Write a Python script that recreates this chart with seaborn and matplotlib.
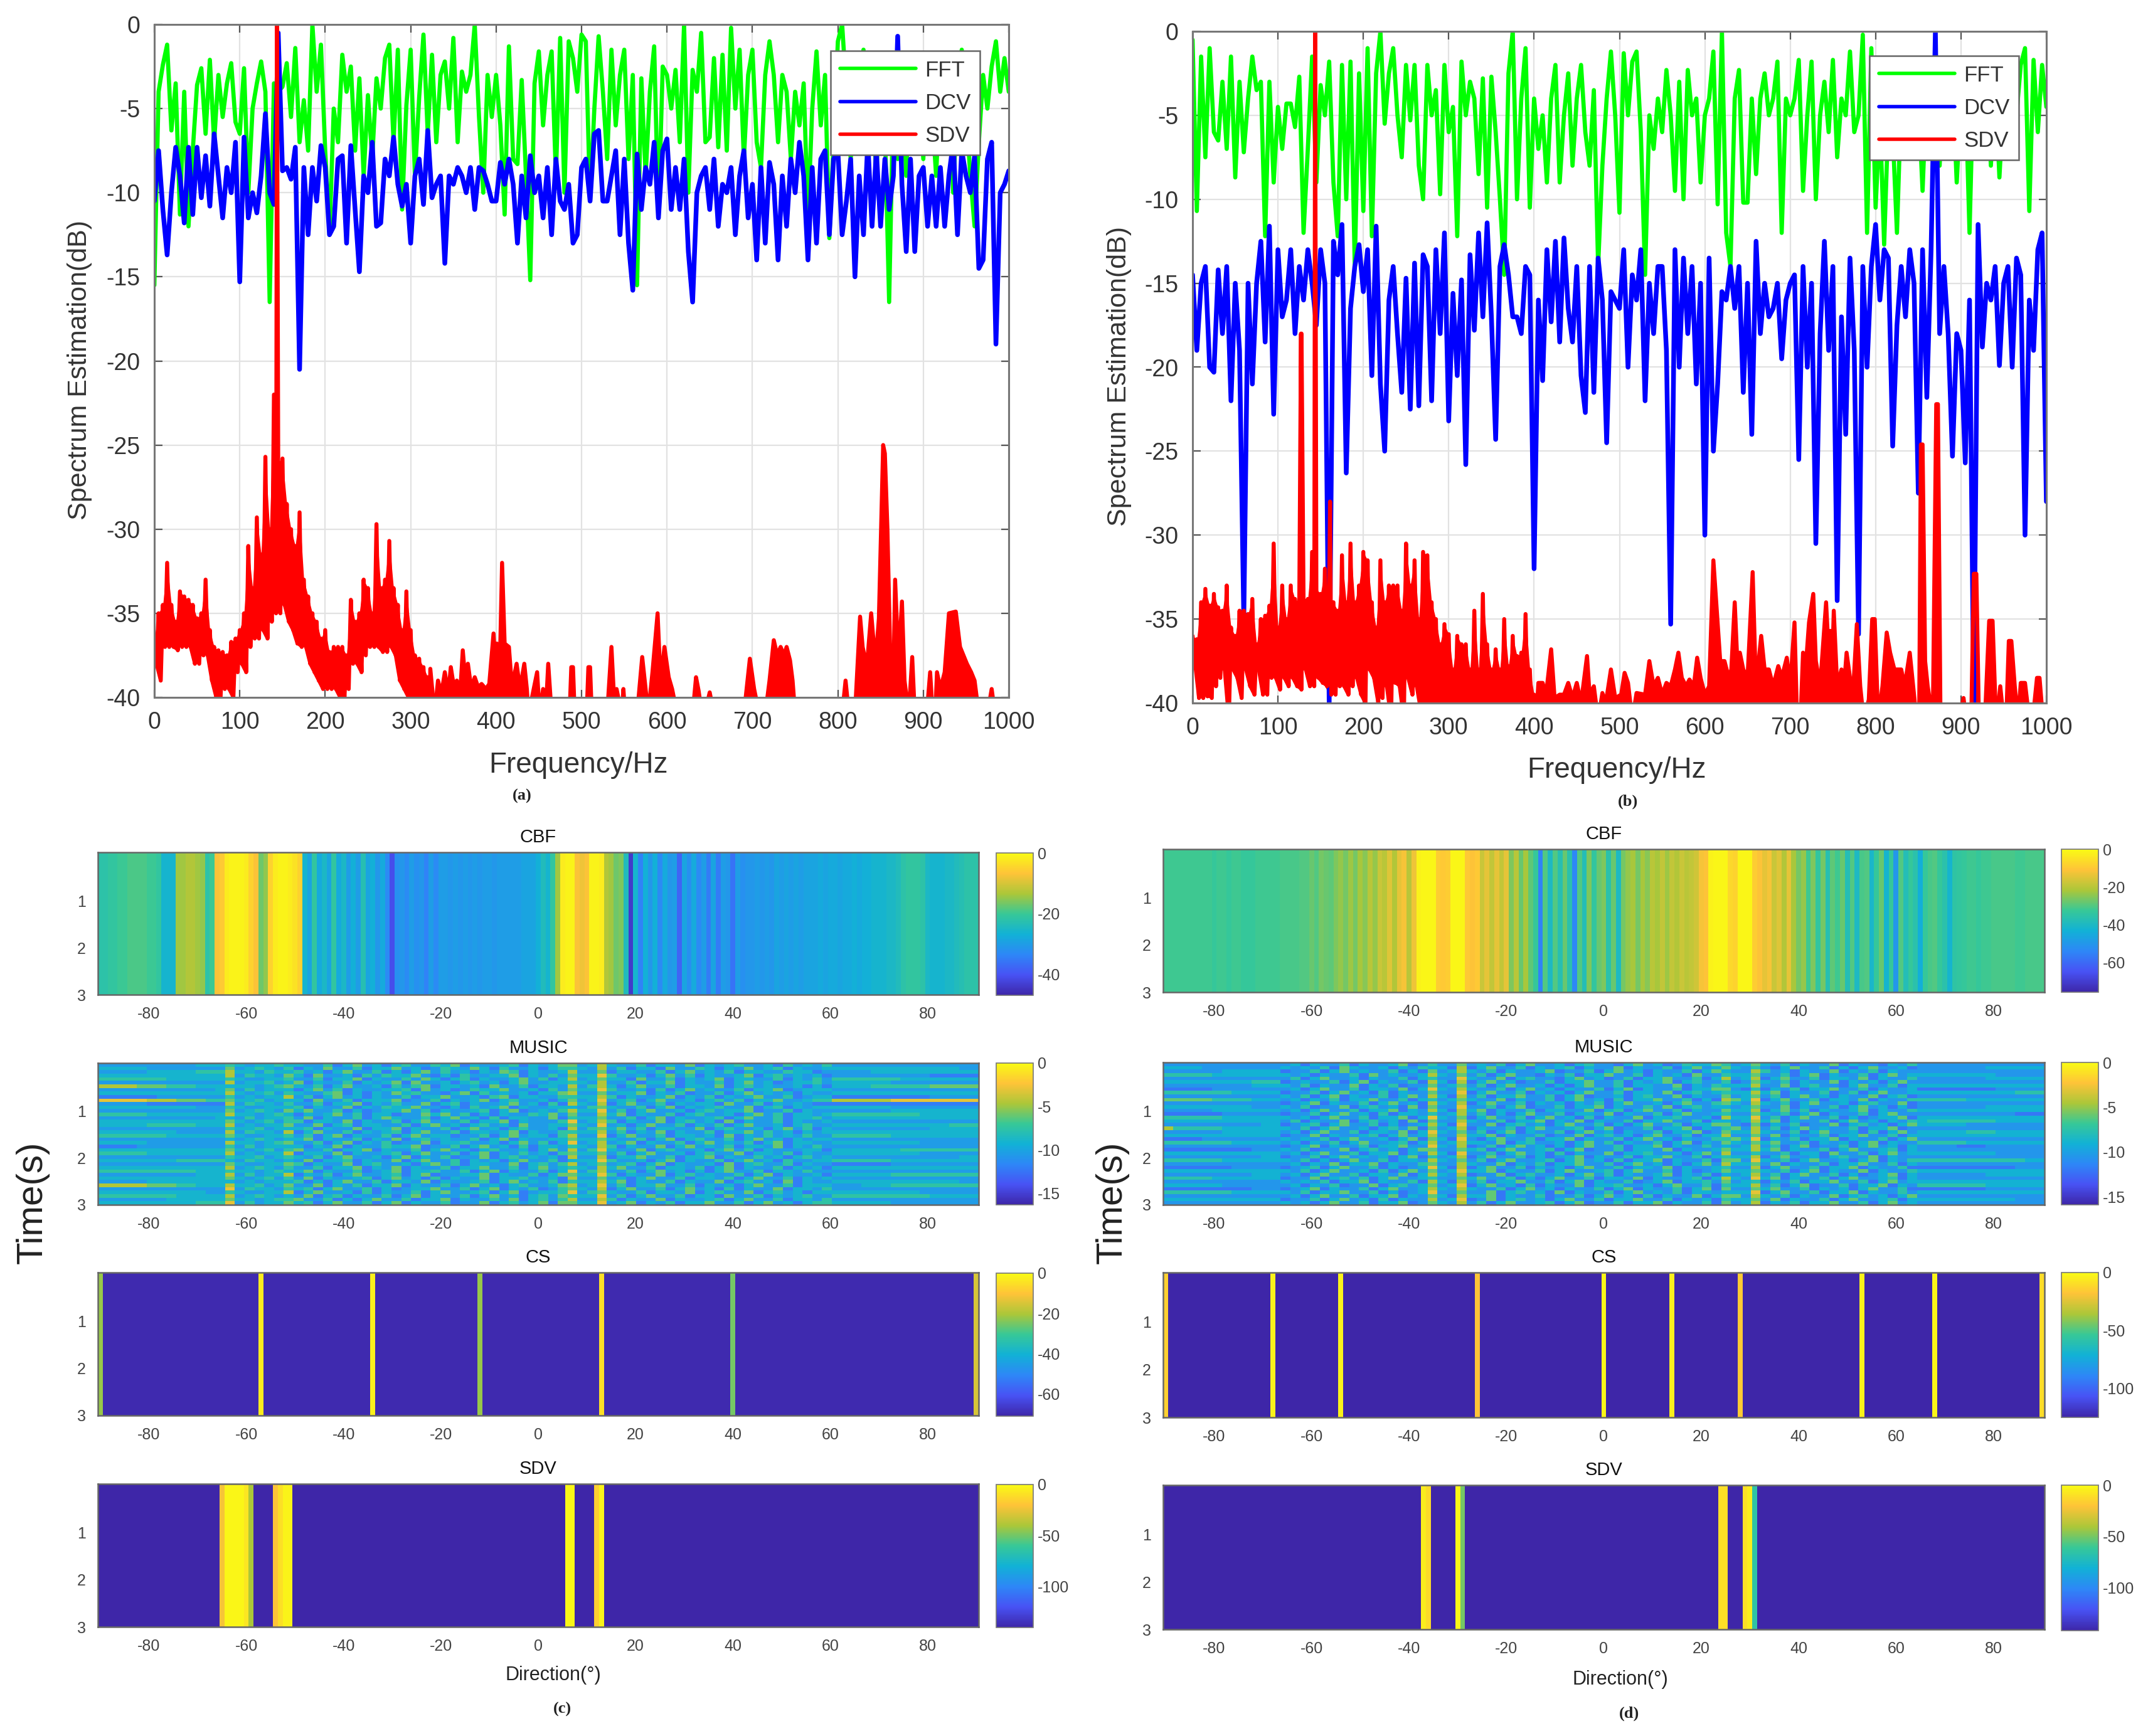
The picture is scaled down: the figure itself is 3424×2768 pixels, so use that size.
import numpy as np
import matplotlib
matplotlib.use("Agg")
import matplotlib.pyplot as plt
from matplotlib.colors import LinearSegmentedColormap
import seaborn as sns

W, H = 3424, 2768
sns.set_theme(style="white")
plt.rcParams['font.family'] = ['Liberation Sans', 'DejaVu Sans']
plt.rcParams['axes.unicode_minus'] = False

# ---------------- spectra: 5 Hz steps, one line per 50 Hz ----------------
a_fft = [
 -15.5,-4,-2.4,-1.2,-6.3,-3.5,-11.3,-4,-12,-7.5,
 -3.6,-2.6,-6.5,-2.1,-7,-3,-5.5,-3.5,-2.3,-5.8,
 -6.5,-2.6,-10,-5,-3.5,-2.2,-4,-16.5,-3.5,-4,
 -3.7,-2.3,-5.5,-1.4,-7,-4.5,-7.5,0,-4,-1.2,
 -7.5,-12.5,-5,-7,-1.8,-4,-2.5,-7.5,-3.2,-9,
 -4.2,-8,-3.2,-5,-2,-1.2,-7,-1.5,-11,-4.8,
 -1.5,-9,-4.3,-0.6,-6.5,-1.8,-7,-3,-2.2,-5,
 -0.8,-7,-2.8,-4,-3,0,-5.5,-10,-3,-5.5,
 -3,-6,-11.3,-1.3,-8,-8.3,-3.3,-9,-15.2,-3.5,
 -1.6,-6,-3,-1.6,-9,-0.8,-10,-1,-2,-4,
 -0.6,-1,-10.5,-5,-0.7,-4,-8,-1.5,-6,-3,
 -1.5,-8,-3,-15.5,-3.2,-9,-4,-1.3,-11.5,-2.5,
 -3,-5,-2.7,-7,0,-10,-2.7,-4,-0.5,-7,
 -6.7,-2,-7.3,-1.8,-7.5,-0.2,-5,-1.5,-8,-3,
 -1.5,-7,-8.5,-3,-1,-3,-7,-3,-4,-8,
 -4,-6,-3.5,-11.5,-5,-1.6,-6,-3,-12.7,-7,
 -1,0,-4,-8,-5,-3,-1.5,-6,-4,-9,
 -3,-6,-16.5,-4,-8,-3,-9,-2,-6,-4,
 -8,-2,-5,-9,-3,-7,-2.5,-10,-4,-1.5,
 -5,-9,-12,-7,-3,-5,-2.5,-1,-4,-2,
 -4]
a_dcv = [
 -10.5,-7.5,-11,-13.7,-10,-7.3,-9,-11.8,-7.3,-11.3,
 -7.3,-10.3,-7.8,-10.8,-6.5,-9,-11.5,-8.5,-10,-7,
 -15.3,-6.7,-11.5,-10,-11.2,-9,-5.3,-10,-10.7,-0.5,
 -8.7,-8.5,-9.2,-7.3,-20.5,-8.5,-12.5,-8.5,-10.5,-7.2,
 -8.5,-12.5,-12,-8,-7.8,-13,-7.2,-11,-14.7,-9,
 -10,-7,-12,-11.8,-8,-9,-6.7,-9.5,-10.8,-9.5,
 -13,-9,-8,-10.7,-6.3,-10.3,-9.5,-9,-14.2,-9,
 -9.5,-8.5,-9,-10,-8.5,-11,-8.5,-8.7,-9.5,-10.5,
 -10.5,-8.2,-9.5,-8,-9.5,-13,-9,-11.5,-7.8,-10,
 -9,-11.5,-8.5,-12.5,-8,-10.5,-11,-9.5,-13,-12.5,
 -8.5,-8,-10.5,-6.5,-6.3,-10.5,-10.5,-9,-7.5,-12.5,
 -8,-13,-15.8,-7.7,-11,-8.5,-9.5,-7,-11.5,-7.5,
 -6.8,-11,-8.5,-11,-8,-13.5,-16.5,-10,-9,-8.5,
 -11,-8,-12,-9.5,-10,-8.5,-12.5,-9,-7.5,-11.5,
 -9.5,-14,-8.5,-13,-8.2,-9.5,-14,-9,-12,-8,
 -10,-7,-9,-14,-8.5,-13,-8,-7.5,-12.5,-8,
 -7.5,-12.5,-10.5,-8,-15,-9,-12.5,-7,-12,-7.5,
 -12,-8,-11,-9,-0.7,-9.5,-13.5,-8,-13.5,-9,
 -8.5,-12,-9,-12,-8.5,-12,-9,-7,-12.5,-7.5,
 -9,-10,-7.8,-14.5,-14,-8,-7,-19,-10,-9.5,
 -8.7]
b_fft = [
 -0.5,-10.7,-1.5,-7.5,-1,-6,-6.5,-3,-7,-1.5,
 -8.7,-3,-7.2,-4,-1.5,-3.5,-3,-12.2,-3,-9,
 -4.5,-7,-4.3,-4.3,-5.7,-2.7,-12,-7,-1.5,-9,
 -3.2,-5,-1.8,-9,-12.2,-2,-10,-1.8,-14,-2.5,
 -10.7,-1,-12.2,-2.5,0,-5.5,-2.5,-1,-5,-7.5,
 -2,-5.3,-2,-8,-10,-2,-5,-3.5,-9.7,-2,
 -6,-4.5,-12.2,-1.8,-5,-3,-4,-8.5,-2.8,-10.5,
 -2.7,-6,-10,-14.5,-2.5,0,-10,-4,-1,-10.5,
 -4,-7,-5,-9,-4,-2,-9,-5,-2.5,-8,
 -4,-2,-6,-8,-3.5,-14,-8,-4,-1.2,-5,
 -10.8,-1.3,-5,-1.8,-1.2,-6,-14.5,-5,-7,-4,
 -6,-2.3,-5,-9.5,-3,-10,-2.3,-5,-4,-9,
 -5,-4,-1.2,-10.3,0,-12,-14,-4,-2.3,-10.2,
 -10.2,-4,-8.5,-4,-2.5,-5,-4,-1.8,-12,-4,
 -5,-4,-1.7,-9.5,-5,-1.8,-10,-5,-3,-6,
 -1.7,-7.5,-4,-5,-1.2,-6,-5,-0.2,-12,-1,
 -10.5,-5,-12.7,-5,-6,-12,-4,-7,-3,-5,
 -4,-9.5,-3,-6,-3,-8,-2,-5,-3,-9,
 -4,-3,-12,-2,-6,-3,-2,-8,-3,-8.7,
 -4,-3,-2,-5,-2,-1,-10.7,-1.7,-6,-2,
 -4.5]
b_dcv = [
 -14.5,-19,-15,-14,-20,-20.3,-14.2,-18,-14,-22,
 -15,-19,-35,-15,-21,-15,-12.5,-18.5,-11.6,-22.8,
 -13,-17,-16,-13,-18,-14,-16,-13,-15,-17.5,
 -13,-15,-40,-12.5,-14.5,-11.5,-26.3,-16.5,-14,-12.7,
 -15.5,-13,-20.5,-11.6,-21,-25,-16,-14,-18,-21.5,
 -14.7,-22.5,-13.8,-22.3,-13.3,-14,-22,-13,-18,-12,
 -23.2,-15.6,-20.5,-14.8,-25.8,-13.3,-17.8,-12,-17,-11.4,
 -17,-24.3,-14,-12.7,-14.5,-17,-17,-18,-14,-14.5,
 -32,-16,-20.8,-13,-17.3,-12.5,-18.5,-12.3,-16.5,-18.5,
 -14,-20.5,-22.7,-14,-21.5,-13.5,-16,-24.5,-15.5,-16,
 -16.5,-13,-20,-14.5,-16,-13,-22,-15,-18,-14,
 -14,-19,-35.3,-13,-20,-13.5,-18,-14,-21,-15,
 -30,-13.5,-25,-21,-15.5,-16,-14,-16.5,-14,-21.5,
 -15,-24,-12.5,-18,-15,-17,-16.5,-15,-19.5,-16,
 -15,-14.5,-25.5,-14,-20,-15,-30.5,-18,-12.5,-19,
 -14,-33.9,-17,-24,-13.5,-19,-35.9,-14,-20,-14,
 -11.5,-16,-13,-13.5,-24.7,-17.5,-14,-17,-13,-15,
 -27.5,-13,-21.8,-13,0,-18,-14,-18,-25.3,-18,
 -19,-25.7,-16,-40,-11.5,-18.8,-15,-16,-14,-19.9,
 -15,-14,-20,-13.5,-14.5,-30,-16,-19,-13,-12,
 -28]

# SDV: dense band read as peak and trough per 5 Hz, then isolated points
a_sdv_hi = [
 -36.5,-35,-34.5,-32,-34.5,-35.5,-33.7,-34,-34.2,-34.5,
 -35.3,-35,-33,-36,-37,-37.2,-37.3,-37.5,-36.7,-36.5,
 -36,-35,-31,-33.5,-29.3,-31.5,-25.7,-30,-22,-26,
 -25.8,-28.5,-30,-31,-29,-33,-34,-35,-35.5,-36.5,
 -36,-37.3,-37,-37,-37,-37.5,-34.2,-35.5,-35,-33,
 -33.5,-35,-29.7,-33.5,-33,-30.7,-33.5,-34.5,-36,-33.7,
 -36,-37.5,-37.7,-38.2,-38.8]
a_sdv_lo = [
 -38,-39,-37,-37,-37,-37.2,-37,-37,-37,-38,
 -38,-37.5,-37.5,-39,-40,-40,-39.5,-39.5,-40,-38.5,
 -38,-38.5,-37,-36.5,-36.5,-36,-36.5,-35.5,-35,-35,
 -34.5,-35.5,-36,-36.8,-37,-37,-38,-38.5,-39,-39.5,
 -39.5,-39.5,-39.5,-40,-40,-39.5,-38,-38,-38.5,-37.5,
 -37,-37,-37,-37.3,-37.3,-37,-37.5,-39,-39.5,-40,
 -40.5,-41,-41,-41,-41]
a_sdv_points = [(143.5,0),
 (323,-38.3),(328,-41),(332,-39),(336,-39.8),(340,-38.5),(344,-39.8),(347,-38.2),(351,-39.5),(354,-39),(358,-39.7),
 (361,-37.2),(364,-39),(367,-38),(371,-39.5),(375,-38.8),(379,-39.4),(383,-39.2),(388,-39.5),(392,-39.2),(397,-36.2),
 (399,-38),(401,-36.8),(404,-39),(407,-32),(410,-36.8),(415,-37),(418,-39),(420,-39),(424,-38),(428,-39.5),(433,-38),
 (436,-39.5),(438,-41),(448,-38.5),(451,-41),(455,-39.5),(458,-41),(461,-38),(465,-41),
 (486,-41),(488,-38.2),(490,-38.2),(492,-41),(506,-41),(508,-38.2),(510,-38.2),(512,-41),
 (530,-41),(535,-37),(539,-41),(541,-39.5),(547,-41),(549,-39.5),(551,-41),
 (565,-41),(571,-37.6),(575,-39.5),(578,-41),(583,-38.5),(589,-35),(592,-38.5),(595,-38),(597,-37),(602,-38.8),(606,-39.5),(612,-41),
 (630,-41),(634,-38.8),(637,-39.6),(641,-41),(644,-41),(650,-39.7),(655,-41),
 (690,-41),(697,-37.7),(702,-39.5),(708,-41),(715,-41),(720,-39),(725,-36.6),(729,-37.5),(733,-37),(737,-37.5),(740,-37),
 (744,-37.8),(747,-39),(750,-41),
 (805,-41),(809,-39),(813,-41),(820,-41),(826,-35.2),(829,-37),(831,-37.5),(835,-37.5),(839,-35),(844,-38),(848,-35.3),
 (853,-25),(855,-25.5),(858,-30),(862,-39),(865,-39),(867,-33),(871,-38),(875,-34.3),(878,-39),(883,-41),(887,-37.6),(890,-41),
 (904,-41),(908,-38.5),(911,-41),(914,-41),(916,-38.5),(920,-39.5),(925,-38.5),(930,-35),(938,-34.9),(943,-37),(947,-37.5),
 (951,-38),(956,-38.5),(960,-39),(965,-41),(975,-41),(980,-39.5),(984,-41),(1000,-41)]

b_sdv_hi = [
 -36,-36.2,-34,-33.2,-34.2,-33.5,-34.3,-34.5,-33,-35.5,
 -36,-34.5,-34.5,-34.7,-33.8,-36.5,-35,-34.8,-34.2,-30.5,
 -35.5,-33,-35,-33,-33.8,-34,-34,-33.8,-31,-33.2,
 -33.5,-32,-33.5,-34,-34.5,-31.2,-34,-30.5,-34,-33,
 -31,-31.5,-34,-35.5,-31.5,-34,-33,-33,-33,-34.5,
 -30.5,-33,-31.5,-35,-31,-31.2,-34,-35,-36.5,-35.3,
 -35.9,-38,-36,-36.5,-36.5,-38,-34.5,-38,-33.5,-36.5,
 -38,-36.8,-38,-35,-37.8,-36,-37.2,-37,-34.7,-38,
 -39.5]
b_sdv_lo = [
 -37.5,-39.7,-39.7,-39.6,-39.7,-39,-38.5,-38,-41,-38,
 -38.5,-39.7,-38,-39,-39.5,-38,-39.5,-39.5,-38.5,-38.5,
 -39.2,-38.5,-39,-38.5,-39,-39.2,-38,-39,-39,-38.5,
 -38.8,-39,-39.5,-39.5,-39,-39,-39.5,-39,-38.5,-39.5,
 -40,-38,-38.5,-40,-39.7,-39,-41,-38.8,-39,-41,
 -38.5,-39.5,-39,-40.5,-40.5,-40.5,-40.5,-40.5,-41,-41,
 -41,-41,-41,-41,-41,-41,-41,-41,-41,-41,
 -41,-41,-41,-41,-41,-41,-41,-41,-41,-41,
 -41]
b_sdv_points = [(127,-18),(127.6,-18),(143.5,0),(161,-28),
 (405,-38.8),(410,-38.8),(414,-39.5),(420,-36.8),(424,-39.7),(430,-39.5),(435,-39.5),(440,-38.8),(445,-39.7),(450,-38.8),
 (455,-40),(462,-37.2),(465,-39.5),(470,-39),(475,-41),(480,-39.4),(484,-40),(490,-38),(495,-39.7),(502,-39.5),(506,-38.2),
 (510,-38.8),(515,-41),(520,-39.4),(530,-39.5),(535,-37.5),(540,-39),(545,-38.5),(550,-39.5),(555,-38.8),(560,-39),
 (565,-38),(569,-37),(573,-38.5),(578,-39),(582,-38.6),(587,-39),(591,-37.3),(595,-38.5),(600,-39.5),(605,-39),
 (610,-31.5),(612,-33),(615,-35.3),(618,-37.5),(623,-37.5),(628,-38.5),(631,-38),(635,-34),(638,-37.5),(641,-37),
 (645,-38),(650,-38.5),(656,-32.2),(659,-37.5),(662,-38),(666,-36),(670,-38),(675,-38),(680,-39),(686,-37.8),(690,-38.5),
 (696,-37.3),(700,-39),(705,-35.2),(708,-41),(712,-41),(715,-37),(718,-38),(722,-35.2),(727,-33.5),(730,-37.5),(735,-39),
 (742,-34),(745,-37),(747,-35.7),(749,-38),(751,-34.5),(755,-39),(760,-38),(763,-39),(766,-37),(770,-38.5),(774,-39),
 (778,-35.3),(782,-39),(786,-41),(792,-39.8),(796,-35),(799,-35),(803,-41),(808,-39),(813,-35.8),(817,-37),(822,-38),
 (826,-38),(830,-38),(834,-39),(840,-37),(844,-39),(848,-41),(851,-41),(853,-24.6),(855,-24.6),(858,-37.5),(861,-39),
 (867,-41),(871,-22.2),(873,-22.2),(876,-41),(898,-41),(903,-39.7),(906,-41),(912,-41),(915,-32.3),(918,-32.3),(921,-41),
 (928,-41),(933,-35.1),(937,-35.1),(941,-41),(942,-41),(946,-39),(950,-41),(953,-41),(956,-36.3),(959,-36.3),(963,-39),
 (967,-41),(970,-38.8),(975,-38.8),(980,-41),(984,-41),(989,-38.5),(992,-38.5),(996,-41),(1000,-41)]

legend_names = ["FFT", "DCV", "SDV"]
freq_ticks = list(range(0, 1001, 100))
db_ticks = list(range(-40, 1, 5))

# ---------------- heat maps, dB per 1 degree from -90 to 90 ----------------
cbf_c = [
 -22,-22,-21,-21,-20,-20,-19,-19,-19,-19,
 -20,-20,-21,-26,-26,-26,-14,-14,-13,-13,
 -14,-15,-22,-20,-7,-6,-2,-1,-1,-1,
 -2,-5,-7,-17,-15,-5,-2,-1,-1,-2,
 -3,-5,-26,-29,-21,-28,-25,-29,-21,-28,
 -25,-30,-27,-30,-23,-29,-27,-31,-28,-33,
 -41,-32,-31,-33,-30,-32,-31,-34,-30,-33,
 -30,-30,-31,-30,-31,-30,-31,-30,-31,-30,
 -30,-31,-30,-30,-30,-30,-30,-29,-29,-29,
 -27,-24,-26,-21,-14,-2,-1,-1,-7,-8,
 -7,-1,-1,-2,-13,-14,-17,-16,-24,-44,
 -26,-34,-27,-31,-27,-33,-28,-31,-30,-38,
 -29,-32,-28,-33,-30,-35,-29,-35,-30,-31,
 -36,-30,-32,-31,-31,-30,-31,-30,-31,-29,
 -30,-29,-30,-29,-30,-29,-29,-29,-28,-29,
 -28,-28,-29,-28,-28,-27,-28,-27,-27,-26,
 -26,-26,-25,-25,-24,-22,-21,-21,-21,-22,
 -25,-26,-26,-26,-25,-25,-24,-23,-22,-22,
 -22]
cbf_d = [
 -32,-32,-32,-32,-32,-32,-32,-32,-32,-32,
 -33,-32,-32,-33,-32,-32,-33,-33,-33,-32,
 -32,-32,-32,-32,-31,-31,-31,-31,-30,-30,
 -28,-30,-27,-28,-29,-26,-24,-27,-23,-27,
 -22,-25,-20,-24,-18,-20,-15,-21,-14,-12,
 -20,-13,-2,-1,-1,-1,-9,-10,-9,-1,
 -1,-1,-10,-11,-10,-18,-14,-19,-14,-19,
 -14,-26,-20,-28,-22,-29,-33,-55,-30,-40,
 -30,-37,-28,-36,-54,-30,-38,-26,-34,-28,
 -26,-36,-28,-40,-27,-24,-22,-27,-22,-25,
 -20,-22,-19,-23,-19,-21,-18,-20,-19,-17,
 -12,-11,-2,-1,-1,-1,-7,-8,-1,-1,
 -1,-9,-11,-14,-12,-18,-15,-21,-14,-22,
 -27,-24,-32,-26,-34,-27,-37,-29,-32,-28,
 -38,-30,-40,-31,-30,-41,-33,-28,-42,-33,
 -50,-30,-38,-33,-36,-44,-33,-31,-30,-33,
 -36,-42,-35,-34,-33,-32,-32,-33,-32,-32,
 -31,-31,-31,-31,-31,-32,-32,-31,-31,-31,
 -31]
cs_c_deg = [-90, -57, -34, -12, 13, 40, 90]
cs_c_db = [-22, -3, -2, -22, -5, -25, -15]
cs_c_floor = -70
cs_d_deg = [-90, -68, -54, -26, 0, 14, 28, 53, 68, 90]
cs_d_db = [-14, -3, -3, -18, -2, -4, -16, -3, -2, -10]
cs_d_floor = -125
sdv_c_deg = [-65,-64,-63,-62,-61,-60,-59,-54,-53,-52,-51,6,7,12,13]
sdv_c_db = [-22,-2,-2,-2,-2,-8,-40,-20,-10,-3,-3,-2,-2,-16,-3]
sdv_c_floor = -140
sdv_d_deg = [-37,-36,-30,-29,24,25,29,30,31]
sdv_d_db = [-5,-12,-2,-50,-10,-10,-10,-5,-65]
sdv_d_floor = -142

# MUSIC: rows of digits, one digit per 2 degrees, value = -1.5 * digit dB
music_c = [
 "7777777777666 5 67665 6 6775864768657756486776586764 4 76 3 67758667486765776857675 777777777777777",
 "6666677777777 4 76567 5 8674775866476875674685776865 5 67 3 75866847756867476586776 666666666666677",
 "7777766666555 3 66756 6 5768647758686475768674586776 3 77 4 86677586476758667756687 777766666666666",
 "6666666666666 3 75667 4 6847768575664786857766486757 4 66 2 57768647586776486576768 777777777788888",
 "5555555666666 5 67766 5 7758664867757468658677647586 3 76 4 66847758676486677586757 555555566666666",
 "7777777777777 3 76657 6 4867758676484776865768647766 5 67 3 77586648677586476876657 666666777777777",
 "3333444555666 6 66765 4 6758647768575486676847758667 3 75 3 68647758667486576776868 666655555544444",
 "7777777777776 4 75766 6 8647586776658476875664776857 4 66 2 57768586476775866487666 777777777777777",
 "6666666666666 3 67657 5 6775486867465778648576768664 3 77 4 76648675877586476768677 666666666666666",
 "8888887777777 5 76766 3 7586476867758664776854866775 5 66 3 58677648675867647758766 888888888877777",
 "2222233344455 4 66576 6 6847758666487758676486577686 4 76 2 76586477686575866477655 333333222222222",
 "7777788888888 3 75667 5 7758664867577486586776476858 3 67 3 86477586766847758676788 888888888888888",
 "6666666666777 5 67766 6 5867748675664778685764867766 6 75 4 67758648676577486586766 666666777777777",
 "7777777777777 4 76567 4 6477586876647586776586487675 3 66 2 75864776865766487758677 777777666666666",
 "5555566666666 3 66765 6 8676475866877464758686775647 4 77 3 64867758657768647586676 555555555666666",
 "7777777777776 6 75766 5 7486775864677586476858667748 5 66 4 77586486776586477586657 666666666666666",
 "6666666666666 4 67657 5 5866748677586476758664867775 2 76 3 58677486576848677586776 777777777777777",
 "6666655555666 3 76766 4 7748658667758647686576847766 4 67 2 76864775867586477686577 666666666666555",
 "7777777777777 5 66576 6 6586774866486775864768657768 3 75 4 64758667748657768647586 777777777766666",
 "6666666677777 3 75667 3 8647758676586477586676486775 5 66 3 75867486775866475768676 666666666666666",
 "5555555666666 4 67766 5 7586486775864766877586476685 3 77 2 86477586676848675767577 555555666666666",
 "7777777777777 6 76567 6 6486775867486576775864867766 4 66 4 67758648657758647686766 777777777777777",
 "6666677777777 3 66765 4 7758648675877486657768647586 2 76 3 76486775864767586486677 666666666777777",
 "8888777777777 5 75766 6 6867486775664877586476858667 5 67 3 58677486476758667486757 777777777777777",
 "6666666666666 4 67657 5 4775866486775864768657768647 3 75 2 67748657768647586777668 666666655555555",
 "5555566666666 3 76766 3 8667486776586477586486757685 4 66 4 75864776865774866758677 666666666777777",
 "7777777777777 5 66576 5 6758647768648675877486576768 3 77 3 86647758664867757686576 777777777777766",
 "6666666655555 6 75667 6 7486658677486477586768647758 6 66 2 57768648677586476857766 555555666666666",
 "7777777777777 4 67766 4 5867748657768647586677486575 3 76 4 76586486776848657758677 888888777777777",
 "6666666666666 3 76567 5 7758664867486775866477586476 5 67 3 64775866758648677586768 666666666666666",
 "5555555555666 5 66765 6 6486775876486657758648677586 2 75 3 77586476868647758667577 777777777777777",
 "7777777777666 3 75766 3 8675864776586487766486775864 4 66 2 58677486576775864867768 666666555555555",
 "6666666666666 4 67657 5 7486776586476858677486657768 3 77 4 76864775866758647758676 777777777777777",
 "7777766666666 6 76766 6 5868647758667486776586476758 5 66 3 64867758677486576848677 666666666666677",
 "3333344455666 3 66576 4 7748675866486775864768657764 3 76 2 75866477586768647758666 777666555555555",
 "7777777777777 2 75667 5 6586477586876647758648675875 4 67 3 86477586476858677486675 777777777777777",
 "6666666666677 5 67766 3 8647768586775864776586487665 2 75 4 67758667486577486576866 666666666777777",
 "5555555566666 3 76567 6 7486586775864867758647686574 5 66 2 75864775866847758676577 555555555566666",
 "7777777666666 4 66765 5 4775868647758664867757486575 3 77 3 58677486776586477586675 777777777777777",
 "6666666666555 2 75766 4 6586477586486775877486576484 4 66 2 76486758664775864768655 666666777777777",
]
music_d = [
 "777777777777 768677586776487 5 77 4 76758647768657786476875664 5 76 4 6758677486778675 7777777777777",
 "666677777777 676758467768675 6 68 3 86477586765867748677586476 4 67 5 7864775868647768 7777777666666",
 "777777666666 877586476775868 4 76 3 67586776487758647686775864 6 77 3 5768677486758677 7777777777777",
 "555556666666 676867758476776 3 67 4 75864778675866477586768477 5 66 4 7758648677586476 6666666677777",
 "777777777777 758647768677586 5 77 2 67748657786476875866477586 3 76 3 8647758667486775 7777777666666",
 "666666666555 876775864867758 3 68 3 86476877586647758676486577 5 87 4 6758677486768647 7777777777777",
 "777777777666 675867748675877 4 76 4 75864776868647758667748675 6 66 3 7748657786477586 6666666666666",
 "888887777777 768647758667486 2 67 3 67758647686775864867758664 4 78 5 8675866477586776 8888888877777",
 "555555566666 877586476858677 4 77 2 86477586768647758667486576 5 66 3 6486775875864776 6666666666555",
 "777777777777 675864867758647 3 68 3 75866477586487768657748677 4 76 4 7586476867748658 7777777777777",
 "444445555666 768675866477586 5 76 4 67748677586476858664775868 3 46 2 8647758667486775 5555566666666",
 "777777777777 876486775864768 3 67 3 86477586768675864776864775 4 67 3 6758647768657748 7777777777777",
 "666666666777 675877486576848 4 77 2 77586487758664867757486576 6 76 4 7748677586476868 7777777666666",
 "777776666666 768647758664867 3 68 3 64867758667748658647758677 4 66 3 8647586776486775 6666666666666",
 "888888777777 877586476858667 5 76 3 75868647758667486775864776 5 77 4 6758648677586477 7777777777888",
 "555555666666 676864775866486 2 67 4 86477586476858677486657768 3 66 2 7586477586876648 6666666666666",
 "666666666666 758677486576848 4 77 3 67758664867486775866477586 6 76 3 6486775864768675 6555555566666",
 "777777777766 876586477586876 3 68 2 77486576864775868647758664 4 78 4 8675877486576864 6666677777777",
 "355555666666 675864776865748 4 76 3 86775864776586487758664867 5 47 3 7586476775866487 7777777777777",
 "777777666666 768647758667486 2 67 4 75864867758647686775866487 4 66 3 6775864776858647 6666655566666",
 "666666666666 877486776586476 3 77 3 66486775877486576864775866 3 77 4 7486775866477586 6666666666666",
 "888877777777 676758647768648 4 68 2 78647758664867758647686775 5 46 2 8675866486775864 7777777777777",
 "555555566666 768675864776586 3 76 3 66748657768647586775864867 4 67 4 6477586768648677 5555566666666",
 "777777777777 876486775866477 2 67 3 87586476868647758664867757 6 76 3 7586487758647686 7777888777777",
 "888888888777 675877486576864 4 77 4 65864776586487758667486776 4 66 3 6486775864776586 7777777777777",
 "666666666666 768647758664867 3 68 2 77586476858677486657768647 3 77 5 7758668477586476 6666666677777",
 "777777777766 877586476768648 5 76 3 86477586876486775866477586 5 66 3 8647768657748677 7777777777777",
 "555555666666 675868647758667 3 67 4 75864776586476858664867758 4 47 2 6758647768648675 5555555555566",
 "777777777777 768674866486775 4 77 3 67748675866477586476868647 3 66 4 7486775866477586 7777777777777",
 "888888877777 876586477586876 2 68 3 86477586768647758667486776 5 77 3 8647758664867758 8888888888777",
 "666666666666 675864776858647 4 76 2 66486775864776586477586876 4 66 4 6758648677486775 6666666666666",
 "777777777666 768647758667486 3 67 3 87748657768647586776486758 6 76 3 7586477586876486 7777777666666",
 "555556666666 877486575864776 5 77 4 64775868647758667486776586 3 67 2 6486775864776586 7777777777777",
 "777777777777 676758664867758 3 68 3 75866477586486775876486657 4 76 5 8675866477586476 6666666666666",
 "666666777777 768675877486576 4 76 2 86476858677486657768647758 5 66 3 7586487758664867 5555555666666",
 "888888888777 876486775864776 3 67 3 67758647686775864867758648 4 77 4 6477586768647758 8888888777777",
 "555555566666 675866477586876 2 77 4 77486576848677586476758667 6 66 2 8647758664867757 6666666666666",
 "777777777777 768647758664867 4 68 3 66486775877586476858677486 4 47 3 6758677486576864 7777777777777",
 "666666666666 877586476858677 3 76 2 87486576864775866477586768 5 66 4 7486775864776586 6666666666777",
 "777777777777 676864775866487 4 67 3 75864776586487758664867758 4 76 3 8675866477586476 7777777777777",
]
deg_ticks = [-80, -60, -40, -20, 0, 20, 40, 60, 80]
time_ticks = [1, 2, 3]
parula_rgb = [(0.2422,0.1504,0.6603),(0.2810,0.3228,0.9579),(0.1786,0.5289,0.9682),(0.0689,0.6948,0.8394),
              (0.2161,0.7843,0.5923),(0.6720,0.7793,0.2227),(0.9970,0.7659,0.2199),(0.9769,0.9839,0.0805)]
parula = LinearSegmentedColormap.from_list("parula", parula_rgb, N=256)

fig = plt.figure(figsize=(W/100, H/100), dpi=100, facecolor="white")

def rect(x0, y0, x1, y1):
    return [x0/W, 1-y1/H, (x1-x0)/W, (y1-y0)/H]

def ptext(x, y, s, **kw):
    fig.text(x/W, 1-y/H, s, ha="center", va="center", **kw)

def spectrum(box, fft, dcv, hi, lo, points, legend_xy):
    ax = fig.add_axes(rect(*box))
    f5 = np.arange(len(fft))*5
    sns.lineplot(x=f5, y=fft, color="#00ff00", lw=4.8, ax=ax, label=legend_names[0], estimator=None, sort=False)
    sns.lineplot(x=f5, y=dcv, color="#0000ff", lw=5.4, ax=ax, label=legend_names[1], estimator=None, sort=False)
    band_x = np.arange(len(hi))*5
    band_f = np.ravel(np.column_stack([band_x, band_x+2.5]))
    band_db = np.ravel(np.column_stack([hi, lo]))
    pts = np.array(points, dtype=float)
    all_f = np.concatenate([band_f, pts[:, 0]])
    all_db = np.concatenate([band_db, pts[:, 1]])
    order = np.argsort(all_f, kind="stable")
    sns.lineplot(x=all_f[order], y=all_db[order], color="#ff0000", lw=4.6, ax=ax, label=legend_names[2],
                 estimator=None, sort=False)
    ax.fill_between(band_x, lo, hi, color="#ff0000", lw=0)
    tail = pts[pts[:, 0] >= band_x[-1]]
    ax.fill_between(tail[:, 0], tail[:, 1], -41, color="#ff0000", lw=0)
    ax.set_xlim(0, 1000); ax.set_ylim(-40, 0)
    ax.set_xticks(freq_ticks); ax.set_yticks(db_ticks)
    ax.set_xlabel(""); ax.set_ylabel("")
    ax.grid(True, color="#e2e2e2", lw=1.6)
    ax.set_axisbelow(True)
    for s in ax.spines.values():
        s.set_visible(True); s.set_color("#777777"); s.set_linewidth(2.2)
    ax.tick_params(direction="in", length=9, width=1.6, color="#555555", top=True, right=True, bottom=True, left=True,
                   labelsize=27, labelcolor="#333333", pad=16)
    lg = ax.legend(loc="upper left", bbox_to_anchor=((legend_xy[0]-box[0])/(box[2]-box[0]), 1-(legend_xy[1]-box[1])/(box[3]-box[1])),
                   borderaxespad=0, frameon=True, fancybox=False, framealpha=1, edgecolor="#666666",
                   fontsize=25, handlelength=3.5, labelspacing=0.55, handletextpad=0.4, borderpad=0.42,
                   labelcolor="#333333")
    lg.get_frame().set_linewidth(1.8)
    for h in lg.get_lines():
        h.set_linewidth(4)
    return ax

spectrum((246,39,1608,1112), a_fft, a_dcv, a_sdv_hi, a_sdv_lo, a_sdv_points, (1324,81))
spectrum((1901,50,3262,1121), b_fft, b_dcv, b_sdv_hi, b_sdv_lo, b_sdv_points, (2980,89))

def columns(floor, deg, db):
    vals = np.full(181, float(floor))
    for d, v in zip(deg, db):
        vals[d+90] = v
    return vals

def digits(rows):
    return np.array([[-1.5*int(c) for c in r.replace(" ", "").ljust(90, "6")[:90]] for r in rows])

def heat(data, box, cbox, vmin, cticks, title):
    ax = fig.add_axes(rect(*box)); cax = fig.add_axes(rect(*cbox))
    data = np.atleast_2d(data)
    nr, nc = data.shape
    sns.heatmap(data, ax=ax, cbar_ax=cax, cmap=parula, vmin=vmin, vmax=0, xticklabels=False, yticklabels=False,
                cbar_kws={"ticks": cticks})
    ax.set_xticks([(d+90.5)/181*nc for d in deg_ticks]); ax.set_xticklabels([str(d) for d in deg_ticks])
    ax.set_yticks([nr*(t+0.03)/3.03 for t in time_ticks]); ax.set_yticklabels([str(t) for t in time_ticks], rotation=0)
    ax.tick_params(direction="in", length=8, width=1.4, color="#333333", top=True, right=True, bottom=True, left=True,
                   labelsize=18, labelcolor="#444444", pad=14)
    for s in ax.spines.values():
        s.set_visible(True); s.set_color("#666666"); s.set_linewidth(1.8)
    cax.tick_params(length=0, labelsize=18, labelcolor="#444444", pad=5)
    cb = ax.collections[0].colorbar
    cb.outline.set_edgecolor("#777777")
    cb.outline.set_linewidth(1.2)
    ax.text(0.5, 1.045, title, transform=ax.transAxes, ha="center", va="bottom", fontsize=21, color="#111111")
    return ax

L = (156, 1560, 1588, 1647)
R = (1854, 3259, 3286, 3345)
heat(cbf_c, (L[0],1359,L[1],1586), (L[2],1360,L[3],1587), -47, [0,-20,-40], "CBF")
heat(digits(music_c), (L[0],1695,L[1],1921), (L[2],1695,L[3],1921), -16.3, [0,-5,-10,-15], "MUSIC")
heat(columns(cs_c_floor, cs_c_deg, cs_c_db), (L[0],2029,L[1],2257), (L[2],2030,L[3],2258), -71, [0,-20,-40,-60], "CS")
heat(columns(sdv_c_floor, sdv_c_deg, sdv_c_db), (L[0],2366,L[1],2594), (L[2],2367,L[3],2595), -140, [0,-50,-100], "SDV")
heat(cbf_d, (R[0],1354,R[1],1582), (R[2],1354,R[3],1582), -76, [0,-20,-40,-60], "CBF")
heat(digits(music_d), (R[0],1694,R[1],1921), (R[2],1694,R[3],1921), -15.9, [0,-5,-10,-15], "MUSIC")
heat(columns(cs_d_floor, cs_d_deg, cs_d_db), (R[0],2029,R[1],2260), (R[2],2029,R[3],2260), -125, [0,-50,-100], "CS")
heat(columns(sdv_d_floor, sdv_d_deg, sdv_d_db), (R[0],2368,R[1],2598), (R[2],2368,R[3],2600), -142, [0,-50,-100], "SDV")

lab = dict(color="#333333")
ptext(127, 590, "Spectrum Estimation(dB)", fontsize=31, rotation=90, **lab)
ptext(1784, 600, "Spectrum Estimation(dB)", fontsize=31, rotation=90, **lab)
ptext(922, 1220, "Frequency/Hz", fontsize=33, **lab)
ptext(2577, 1228, "Frequency/Hz", fontsize=33, **lab)
ptext(52, 1917, "Time(s)", fontsize=42, rotation=90, color="#222222")
ptext(1773, 1917, "Time(s)", fontsize=42, rotation=90, color="#222222")
ptext(882, 2671, "Direction(°)", fontsize=22, color="#222222")
ptext(2583, 2678, "Direction(°)", fontsize=22, color="#222222")
for x, y, s in [(832,1269,"(a)"), (2595,1278,"(b)"), (896,2725,"(c)"), (2597,2732,"(d)")]:
    ptext(x, y, s, fontsize=19, family=["Liberation Serif"], fontweight="bold", color="#222222")

fig.savefig("out.png", dpi=100, facecolor="white")
